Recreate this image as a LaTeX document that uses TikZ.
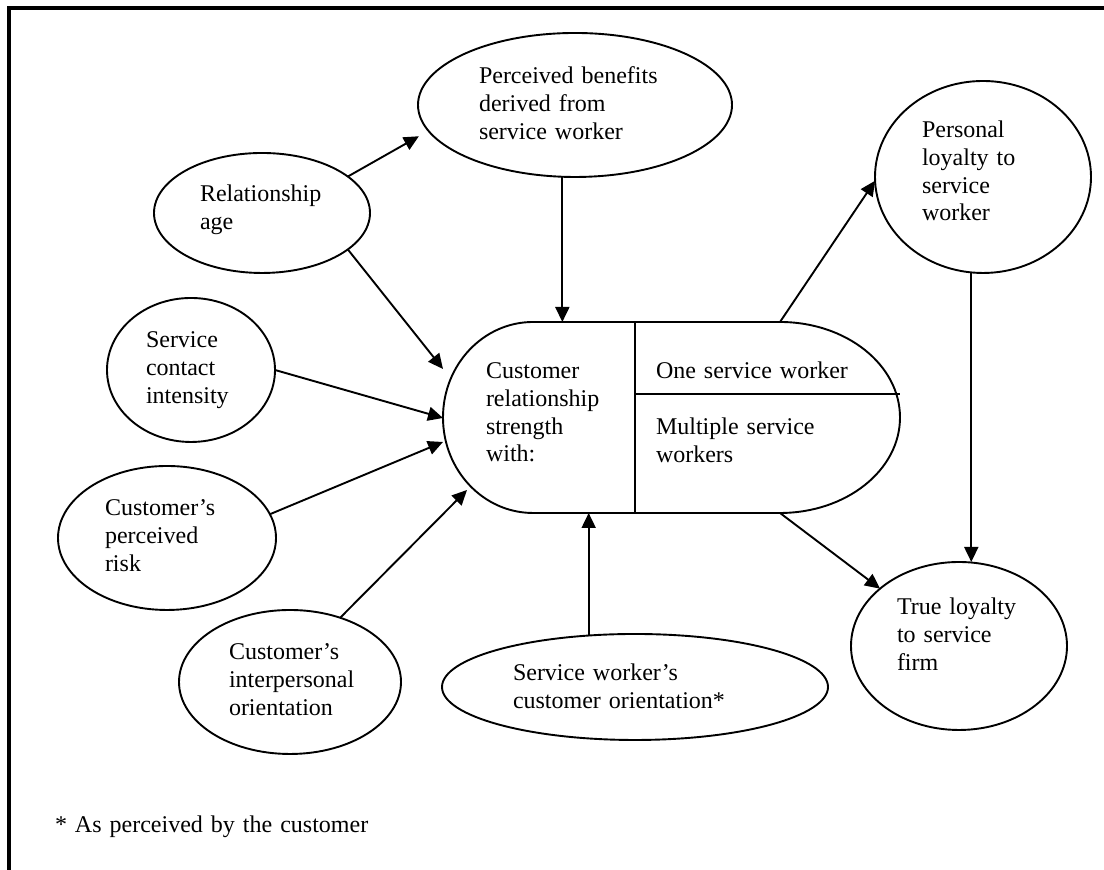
\documentclass[tikz,border=0pt]{standalone}
\usepackage{fontspec}
\setmainfont{Liberation Serif}[WordSpace=0.78]
\usetikzlibrary{arrows.meta,shapes.geometric}
\tikzset{
  oval/.style={ellipse, draw, line width=0.95pt, inner sep=0pt, outer sep=0pt},
  lbl/.style={anchor=base west, inner sep=0pt, outer sep=0pt, text width=220pt, align=left,
              font=\fontsize{12pt}{13.8pt}\selectfont},
  conn/.style={line width=0.95pt, -{Triangle[length=7.5pt,width=7pt]}},
  frame/.style={line width=1.6pt}
}
\begin{document}
\begin{tikzpicture}[x=0.5pt,y=0.5pt]
\useasboundingbox (0,0) rectangle (1104,870);
% frame
\draw[frame] (9,0) -- (9,862) -- (1104,862);

% ellipses
\node[oval, minimum width=108pt, minimum height=60pt] (ra) at (262,657) {};
\node[oval, minimum width=157pt, minimum height=72pt] (pb) at (575,765) {};
\node[oval, minimum width=108pt, minimum height=96pt] (pl) at (983,693) {};
\node[oval, minimum width=84pt, minimum height=72pt] (sci) at (191,500) {};
\node[oval, minimum width=109pt, minimum height=72pt] (cpr) at (167,332) {};
\node[oval, minimum width=111pt, minimum height=72pt] (cio) at (290,188) {};
\node[oval, minimum width=193pt, minimum height=53pt] (swo) at (635,183) {};
\node[oval, minimum width=108pt, minimum height=84pt] (tl) at (959,224) {};

% central capsule
\draw[line width=0.95pt] (533,548) -- (780,548)
  arc[start angle=90, end angle=-90, x radius=120, y radius=95.5]
  -- (533,357)
  arc[start angle=270, end angle=90, x radius=90, y radius=95.5] -- cycle;
\draw[line width=0.95pt] (635,548) -- (635,357);
\draw[line width=0.95pt] (635,476) -- (900,476);
\node[rectangle, minimum width=228.5pt, minimum height=95.5pt, inner sep=0pt, outer sep=0pt] (crs) at (671.5,452.5) {};
\coordinate (crsW1) at (443,501);
\coordinate (crsW2) at (443,452);
\coordinate (crsW3) at (443,428);
\coordinate (crsW4) at (467,380);
\coordinate (crsTR) at (780,548);
\coordinate (crsBR) at (780,357);

% texts
\node[lbl] (tra) at (200,668) {Relationship\\age};
\node[lbl] (tpb) at (479,786) {Perceived benefits\\derived from\\service worker};
\node[lbl] (tpl) at (922,732) {Personal\\loyalty to\\service\\worker};
\node[lbl] (tsci) at (146,522) {Service\\contact\\intensity};
\node[lbl] (tcpr) at (105,354) {Customer's\\perceived\\risk};
\node[lbl] (tcio) at (229,210) {Customer's\\interpersonal\\orientation};
\node[lbl] (tswo) at (513,189) {Service worker's\\customer orientation*};
\node[lbl] (ttl) at (897,255) {True loyalty\\to service\\firm};
\node[lbl] (tcrs) at (486,491) {Customer\\relationship\\strength\\with:};
\node[lbl] (tone) at (656,491) {One service worker};
\node[lbl] (tmul) at (656,435) {Multiple service\\workers};
\node[lbl] (note) at (55,37) {* As perceived by the customer};

% connectors
\draw[conn, shorten >=5.5pt] (ra.23) -- (pb.190);
\draw[conn] (ra.-23) -- (crsW1);
\draw[conn] (pb.260.5) -- (pb.260.5 |- crs.north);
\draw[conn] (sci.east) -- (crsW2);
\draw[conn] (cpr.13) -- (crsW3);
\draw[conn] (cio.52) -- (crsW4);
\draw[conn] (swo.132) -- (swo.132 |- crs.south);
\draw[conn] (crsTR) -- (pl.182);
\draw[conn] (crsBR) -- (tl.144);
\draw[conn] (pl.263.5) -- (pl.263.5 |- tl.north);
\end{tikzpicture}
\end{document}
